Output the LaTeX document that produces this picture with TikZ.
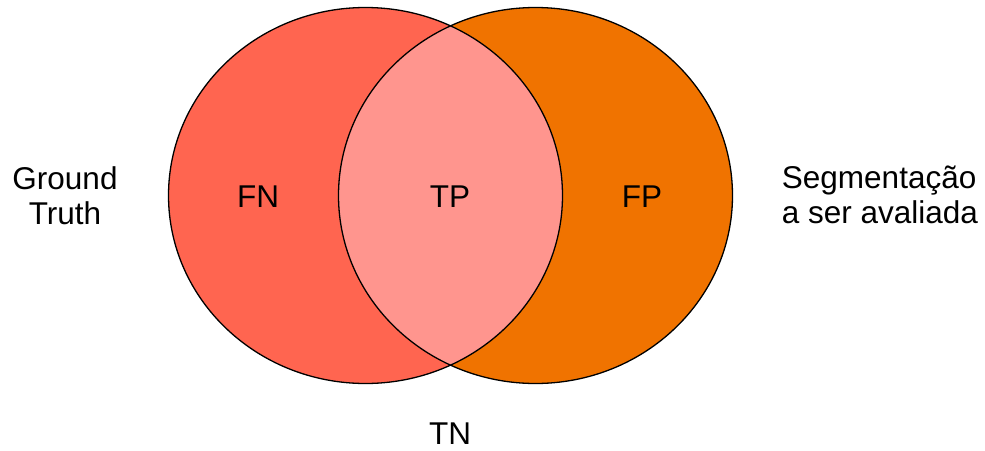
\documentclass[tikz,border=0pt]{standalone}
\usepackage{fontspec}
\setmainfont{Liberation Sans}
\definecolor{gtred}{HTML}{FF6550}
\definecolor{segorange}{HTML}{F07300}
\definecolor{overlap}{HTML}{FF958E}
\begin{document}
\begin{tikzpicture}[x=1pt,y=-1pt,
  setline/.style={draw=black,line width=1.3pt},
  lbl/.style={font=\fontsize{31.5}{35}\selectfont,align=center,inner sep=0pt}]
\useasboundingbox (0,0) rectangle (985,450);
% the two sets
\def\gt{(365.5,195.5) ellipse [x radius=197, y radius=188]}
\def\seg{(535.5,195.5) ellipse [x radius=197, y radius=188]}
\fill[gtred] \gt;
\fill[segorange] \seg;
\begin{scope}
  \clip \gt;
  \fill[overlap] \seg;
\end{scope}
\draw[setline] \gt;
\draw[setline] \seg;
% region labels
\node[lbl] (fn) at (258,197) {FN};
\node[lbl] (tp) at (450,197) {TP};
\node[lbl] (fp) at (642,197) {FP};
\node[lbl] (tn) at (450,434) {TN};
% set names
\node[lbl] (gt) at (65,196) {Ground\\Truth};
\node[lbl,align=left] (seg) at (880,195) {Segmentação\\a ser avaliada};
\end{tikzpicture}
\end{document}
